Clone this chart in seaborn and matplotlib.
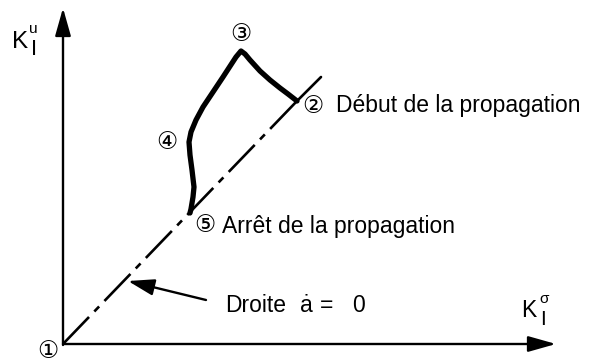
import matplotlib
matplotlib.use("Agg")
import matplotlib.pyplot as plt
import seaborn as sns
import pandas as pd

# ---- data (diagram coordinates: K_sigma horizontal, K_u vertical) ----
curve_ks = [234, 225, 217, 207, 197, 187, 182, 178, 173, 160, 150, 140, 133, 128, 126, 127, 129, 131, 130, 128, 127]
curve_ku = [243, 250, 256, 264, 273, 284, 290, 293, 287, 267, 252, 237, 224, 212, 202, 189, 174, 157, 147, 135, 131]

line_ks = [0, 234]          # droite a_dot = 0 (dash-dot part)
line_ku = [0, 243]
line_ext_ks = [234, 258]    # solid continuation beyond point 2
line_ext_ku = [243, 267]

point_labels = ["①", "②", "③", "④", "⑤"]
point_ks = [-15, 250, 178, 104, 142]
point_ku = [-7, 238, 310, 202, 119]

txt_debut = "Début de la propagation"
txt_arret = "Arrêt de la propagation"
txt_droite = "Droite"

sns.set_theme(style="white")
plt.rcParams["font.family"] = ["Liberation Sans", "DejaVu Sans", "Noto Sans CJK SC"]
plt.rcParams["lines.scale_dashes"] = False

fig = plt.figure(figsize=(5.9, 3.62), dpi=100)
ax = fig.add_axes([0, 0, 1, 1])
ax.set_xlim(-63, 527)
ax.set_ylim(-18, 344)
ax.axis("off")

df_curve = pd.DataFrame({"ks": curve_ks, "ku": curve_ku})
sns.lineplot(data=df_curve, x="ks", y="ku", sort=False, estimator=None,
             color="black", linewidth=3.8, ax=ax,
             solid_capstyle="round", solid_joinstyle="round")

df_line = pd.DataFrame({"ks": line_ks, "ku": line_ku})
sns.lineplot(data=df_line, x="ks", y="ku", sort=False, estimator=None,
             color="black", linewidth=1.9, ax=ax)
ax.lines[-1].set_linestyle((0, (27, 5.5, 5, 5.5)))

df_ext = pd.DataFrame({"ks": line_ext_ks, "ku": line_ext_ku})
sns.lineplot(data=df_ext, x="ks", y="ku", sort=False, estimator=None,
             color="black", linewidth=1.9, ax=ax)

# axes arrows
arrow_style = "-|>,head_length=0.85,head_width=0.24"
ax.annotate("", xy=(493, 0), xytext=(0, 0),
            arrowprops=dict(arrowstyle=arrow_style, lw=1.7, color="black",
                            shrinkA=0, shrinkB=0, mutation_scale=20))
ax.annotate("", xy=(0, 336), xytext=(0, -1),
            arrowprops=dict(arrowstyle=arrow_style, lw=1.7, color="black",
                            shrinkA=0, shrinkB=0, mutation_scale=20))

# axis labels K_I^u and K_I^sigma
ax.text(-51, 296, "K", fontsize=17.5, ha="left", va="baseline", color="black")
ax.text(-32, 289, "I", fontsize=16, ha="left", va="baseline", color="black")
ax.text(-34, 311, "u", fontsize=11, ha="left", va="baseline", color="black")

ax.text(458, 27, "K", fontsize=16.5, ha="left", va="baseline", color="black")
ax.text(477, 19, "I", fontsize=15, ha="left", va="baseline", color="black")
ax.text(476, 41, "σ", fontsize=11, ha="left", va="baseline", color="black")

# circled point numbers
for lab, x, y in zip(point_labels, point_ks, point_ku):
    ax.text(x, y, lab, fontsize=17, ha="center", va="center", color="black",
            family=["DejaVu Sans", "Noto Sans CJK SC"])

ax.text(273, 232, txt_debut, fontsize=16.5, ha="left", va="baseline", color="black")
ax.text(159, 111, txt_arret, fontsize=16.5, ha="left", va="baseline", color="black")
ax.text(162, 32, txt_droite, fontsize=16.5, ha="left", va="baseline", color="black")
ax.text(237, 32, "ȧ", fontsize=16.5, ha="left", va="baseline", color="black")
ax.text(257, 32, "=", fontsize=16.5, ha="left", va="baseline", color="black")
ax.text(289, 32, "0", fontsize=16.5, ha="left", va="baseline", color="black")

# arrow pointing at the line
ax.annotate("", xy=(65, 63), xytext=(143, 44),
            arrowprops=dict(arrowstyle="-|>,head_length=0.8,head_width=0.25",
                            lw=1.7, color="black", shrinkA=0, shrinkB=0,
                            mutation_scale=20))

fig.savefig("out.png", dpi=100)
